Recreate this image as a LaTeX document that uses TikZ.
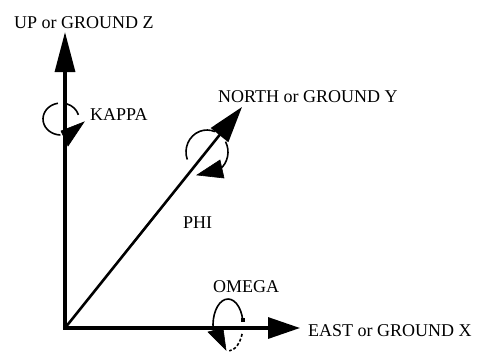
\documentclass[tikz,border=0pt]{standalone}
\usepackage{fontspec}
\setmainfont{Liberation Serif}
\usetikzlibrary{arrows.meta}
\begin{document}
\begin{tikzpicture}[x=1pt,y=-1pt,
  lbl/.style={inner sep=0pt, anchor=base west, font=\fontsize{18}{20}\selectfont},
  axisline/.style={line width=3.2pt, line join=miter},
  diagline/.style={line width=2.6pt},
  rot/.style={line width=1.6pt},
  head/.style={fill=black, draw=black, line width=0.6pt, line join=miter}]
\useasboundingbox (0,0) rectangle (481,354);
% axes
\coordinate (O) at (65,328);
\coordinate (Z) at (65,32);
\coordinate (X) at (300,328);
\coordinate (Y) at (242,107);
\draw[axisline, {Triangle[length=40pt,width=20pt]}-{Triangle[length=32pt,width=21pt]}] (Z) -- (O) -- (X);
\draw[diagline, -{Triangle[length=36pt,width=22pt]}] (O) -- (Y);
% labels
\node[lbl] (lz) at (14,28) {UP or GROUND Z};
\node[lbl] (lk) at (90,120) {KAPPA};
\node[lbl] (ly) at (218,102) {NORTH or GROUND Y};
\node[lbl] (lp) at (183,228.5) {PHI};
\node[lbl] (lo) at (213,292) {OMEGA};
\node[lbl] (lx) at (308,336) {EAST or GROUND X};
% KAPPA rotation
\coordinate (K) at (61,119);
\draw[rot] ([shift={(-15:18 and 16)}]K) arc[start angle=-15,end angle=-72,x radius=18,y radius=16];
\draw[rot] ([shift={(-100:18 and 16)}]K) arc[start angle=-100,end angle=-268,x radius=18,y radius=16];
\fill[head] (84,122) -- (61,131) -- (68,146) -- cycle;
% PHI rotation
\coordinate (P) at (207,152);
\draw[rot] ([shift={(160:21 and 22)}]P) arc[start angle=160,end angle=292,x radius=21,y radius=22];
\draw[rot] ([shift={(332:21 and 22)}]P) arc[start angle=332,end angle=412,x radius=21,y radius=22];
\fill[head] (197,175) -- (220,160) -- (224,178) -- cycle;
% OMEGA rotation
\coordinate (W) at (228,325);
\draw[rot] ([shift={(-11:15 and 26)}]W) arc[start angle=-11,end angle=-190,x radius=15,y radius=26];
\draw[rot, dash pattern=on 3pt off 2pt] ([shift={(20:15 and 26)}]W) arc[start angle=20,end angle=85,x radius=15,y radius=26];
\fill ([shift={(-11:15 and 26)}]W) ++(-1.8,-1.8) rectangle ++(3.6,3.6);
\fill[head] (208,332) -- (223,328) -- (226,350) -- cycle;
\end{tikzpicture}
\end{document}
